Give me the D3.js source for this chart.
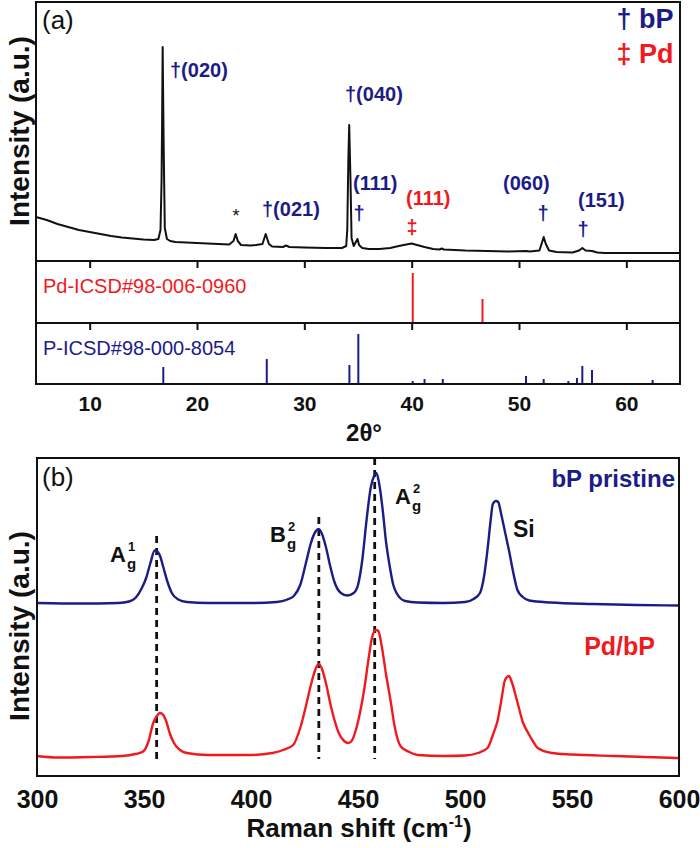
<!DOCTYPE html>
<html>
<head>
<meta charset="utf-8">
<script src="https://cdn.jsdelivr.net/npm/d3@7"></script>
<style>
  body { margin: 0; background: #fff; }
  svg { font-family: "Liberation Sans", Arial, sans-serif; }
</style>
</head>
<body>
<svg id="chart"></svg>
<script>
// ---- data ----
// XRD scan of Pd/bP: [2theta, intensity a.u.]
const xrdScan = [
  [5,44],[6,41],[7,37],[8,34],[9,31],[10,29],[11,27],[12,25],[13,23.5],[14,22.5],[15,21.5],
  [16,21],[16.4,22],[16.6,31],[16.7,81],[16.75,141],[16.8,214],[16.85,161],[16.9,111],[17.0,33],
  [17.2,22],[17.5,20],[18,19],[19,18.5],[20,18],[21,17.5],[22,17],[23,16.5],[23.4,20],[23.6,27],
  [23.8,20],[24.1,16],[25,15.5],[25.5,16],[26.1,17],[26.4,27],[26.7,17],[27,14.5],[28,14],
  [28.3,15.5],[28.6,14],[30,13.5],[32,13],[33.5,13],[33.9,15],[34.0,31],[34.1,101],[34.18,136],
  [34.3,81],[34.4,23],[34.6,15],[34.8,19],[34.95,22],[35.1,16],[35.4,13],[36,12],[37,12],[38,13],
  [38.8,15],[39.5,16.5],[40.0,17.5],[40.5,16],[41.2,14],[42,12],[42.6,11.5],[42.8,12.5],[43,11.5],
  [45,10.5],[47,10],[49,9.5],[50.7,10],[51,9.5],[51.9,10.5],[52.1,17],[52.3,24],[52.5,17],
  [52.8,10.5],[53.5,9],[55,8.5],[55.6,10.5],[55.9,13],[56.2,10.5],[56.8,10],[57.3,8.5],[58,8],
  [60,8],[63,8],[65,8]
];
// reference patterns: [2theta, relative intensity]
const pdRefs = [[40.1,50],[46.6,24]];
const pRefs = [
  [16.86,17],[26.5,25],[34.2,19],[35.03,50],[40.1,3],[41.2,5],[42.9,5],[44.9,1],[50.65,8],
  [52.3,5],[54.6,3],[55.4,6],[55.9,18],[56.8,14],[58.35,1],[62.45,4]
];
const xrdTicks = [10,20,30,40,50,60];

// Raman spectra: [shift cm-1, intensity a.u.]
const ramanBP = [
  [300,173],[320,172.5],[338,173],[343,174.5],[346,178],[349,188],[351,198],[353,213],[355,225.5],
  [356,225],[357.5,220],[359,209],[361,194],[363,183],[366,176.5],[370,174],[380,173],[400,173],
  [412,174],[417,176.5],[420,180],[423,191],[426,216],[428,233],[430,244],[431.5,247],[433,243],
  [435,229],[437,210],[439,194],[442,183],[445,180.5],[448,183],[450,191],[452,216],[454,256],
  [456,289],[457.5,300],[458.6,303],[460,291],[461.7,263],[463,236],[464.8,210],[466.5,191],
  [468,183],[472,175],[478,173.5],[490,173],[500,174],[504,177],[507,183],[509,201],[510.5,226],
  [512,256],[513,272],[514.5,275],[515.5,274],[517,261],[519,241],[520.5,226],[522.5,204],
  [524.5,186],[527,179],[530,175.5],[540,173.5],[560,172],[580,171],[600,170.5]
];
const ramanPdBP = [
  [300,20],[310,18.5],[325,19],[340,20],[346,22],[349.6,24.5],[352,34],[354.3,53],[356,60],
  [357.5,63],[359,61],[360.5,54],[362,43],[364,33],[366.8,26],[370,23],[380,21],[400,21],[410,23],
  [415,26],[419.7,31],[423,48],[426,73],[428,91],[430,106],[431.6,112],[433,108],[435,93],[437,73],
  [439,56],[441,43],[443.5,35],[445.5,33],[447,35],[449,46],[451,64],[453,88],[455,118],
  [456.5,138],[458.4,146],[459.5,145],[461,131],[463,103],[465.4,73],[467,51],[470,29.5],[474,24],
  [478,21],[490,20],[500,20.5],[506,23],[510.5,28],[513,41],[515.3,56],[517,76],[518.7,96],
  [520.6,100],[522,93],[524.6,73],[527,54],[529.5,43],[532,34],[534,28],[540.6,23],[550,21.5],
  [570,20],[600,18]
];
// bP mode positions and the intensity range of their dashed guides
const modePos = [355.9, 431.7, 457.8];
const modeTop = [240, 259, 318];
const modeBottom = 17;
const ramanTicks = [300,350,400,450,500,550,600];

// ---- drawing ----
const W = 700, H = 848;
const navy = "#1c1c86", red = "#f01a1e";
const svg = d3.select("#chart").attr("width", W).attr("height", H);

// panel (a)
const L = 36, R = 680;
const x = d3.scaleLinear().domain([5, 65]).range([L, R]);
const yMain = d3.scaleLinear().domain([0, 259]).range([261, 2]);
const yPd = d3.scaleLinear().domain([0, 62]).range([323, 261]);
const yP = d3.scaleLinear().domain([0, 61]).range([384, 323]);

svg.append("path")
  .datum(xrdScan)
  .attr("fill", "none")
  .attr("stroke", "#111")
  .attr("stroke-width", 2)
  .attr("stroke-linejoin", "round")
  .attr("d", d3.line().x(d => x(d[0])).y(d => yMain(d[1])));

svg.selectAll(".pdstick").data(pdRefs).join("line")
  .attr("x1", d => x(d[0])).attr("x2", d => x(d[0]))
  .attr("y1", yPd(0)).attr("y2", d => yPd(d[1]))
  .attr("stroke", red).attr("stroke-width", 2);

svg.selectAll(".pstick").data(pRefs).join("line")
  .attr("x1", d => x(d[0])).attr("x2", d => x(d[0]))
  .attr("y1", yP(0)).attr("y2", d => yP(d[1]))
  .attr("stroke", navy).attr("stroke-width", 2);

// inner ticks on top of each reference strip
[261, 323].forEach(yy => {
  svg.append("g")
    .attr("transform", `translate(0,${yy})`)
    .call(d3.axisBottom(x).tickValues(xrdTicks).tickSize(7).tickFormat(""))
    .call(g => g.select(".domain").remove())
    .selectAll("line").attr("stroke", "#111").attr("stroke-width", 2);
});

svg.append("g")
  .attr("transform", "translate(0,384)")
  .call(d3.axisBottom(x).tickValues(xrdTicks).tickSize(0).tickPadding(12).tickFormat(d3.format("d")))
  .call(g => g.select(".domain").remove())
  .selectAll("text")
  .attr("font-family", "Liberation Sans, Arial, sans-serif")
  .attr("font-size", 21).attr("font-weight", "bold").attr("fill", "#111");

// frames
[[2, 261], [261, 323], [323, 384]].forEach(([t, b]) => {
  svg.append("rect").attr("x", L).attr("y", t).attr("width", R - L).attr("height", b - t)
    .attr("fill", "none").attr("stroke", "#111").attr("stroke-width", 2);
});

svg.append("text").attr("x", 364).attr("y", 441).attr("text-anchor", "middle")
  .attr("font-size", 24).attr("font-weight", "bold").attr("fill", "#111").text("2θ°");

svg.append("text").attr("x", 42).attr("y", 29).attr("font-size", 26).attr("fill", "#111").text("(a)");

svg.append("text").attr("x", 43).attr("y", 293).attr("font-size", 20).attr("fill", red).text("Pd-ICSD#98-006-0960");
svg.append("text").attr("x", 43).attr("y", 355).attr("font-size", 20).attr("fill", navy).text("P-ICSD#98-000-8054");

// legend
const legend = [["†", "bP", navy, 28], ["‡", "Pd", red, 63]];
legend.forEach(([sym, lab, col, yy]) => {
  svg.append("text").attr("x", 624).attr("y", yy).attr("text-anchor", "middle")
    .attr("font-size", 27).attr("font-weight", "bold").attr("fill", col).text(sym);
  svg.append("text").attr("x", 639).attr("y", yy)
    .attr("font-size", 27).attr("font-weight", "bold").attr("fill", col).text(lab);
});

// peak labels
const peakText = [
  ["†(020)", 170, 77, navy, "start"],
  ["†(021)", 262, 216, navy, "start"],
  ["†(040)", 345, 101, navy, "start"],
  ["(111)", 353, 190, navy, "start"],
  ["†", 359, 220, navy, "middle"],
  ["(111)", 406, 205, red, "start"],
  ["‡", 412, 234, red, "middle"],
  ["(060)", 503, 190, navy, "start"],
  ["†", 543, 220, navy, "middle"],
  ["(151)", 578, 207, navy, "start"],
  ["†", 583, 236, navy, "middle"]
];
peakText.forEach(([t, px, py, col, anc]) => {
  svg.append("text").attr("x", px).attr("y", py).attr("text-anchor", anc)
    .attr("font-size", 20).attr("font-weight", "bold").attr("fill", col).text(t);
});
svg.append("text").attr("x", 236).attr("y", 222).attr("text-anchor", "middle")
  .attr("font-size", 18).attr("fill", "#111").text("*");

// y titles
function yTitle(cy) {
  svg.append("text")
    .attr("transform", `translate(29,${cy}) rotate(-90)`)
    .attr("text-anchor", "middle")
    .attr("font-size", 28).attr("font-weight", "bold").attr("fill", "#111")
    .text("Intensity (a.u.)");
}
yTitle(131);
yTitle(626);

// panel (b)
const xr = d3.scaleLinear().domain([300, 600]).range([37, 679]);
const yr = d3.scaleLinear().domain([0, 318]).range([776, 458]);
const ramanLine = d3.line().curve(d3.curveMonotoneX).x(d => xr(d[0])).y(d => yr(d[1]));

svg.selectAll(".mode").data(modePos).join("line")
  .attr("x1", d => xr(d)).attr("x2", d => xr(d))
  .attr("y1", (d, i) => yr(modeTop[i])).attr("y2", yr(modeBottom))
  .attr("stroke", "#111").attr("stroke-width", 2.8).attr("stroke-dasharray", "7,5");

svg.append("path").datum(ramanBP)
  .attr("fill", "none").attr("stroke", navy).attr("stroke-width", 2.4).attr("d", ramanLine);
svg.append("path").datum(ramanPdBP)
  .attr("fill", "none").attr("stroke", red).attr("stroke-width", 2.4).attr("d", ramanLine);

svg.append("rect").attr("x", 37).attr("y", 458).attr("width", 642).attr("height", 318)
  .attr("fill", "none").attr("stroke", "#111").attr("stroke-width", 2);

svg.append("g")
  .attr("transform", "translate(0,776)")
  .call(d3.axisBottom(xr).tickValues(ramanTicks).tickSize(0).tickPadding(14).tickFormat(d3.format("d")))
  .call(g => g.select(".domain").remove())
  .selectAll("text")
  .attr("font-family", "Liberation Sans, Arial, sans-serif")
  .attr("font-size", 25).attr("font-weight", "bold").attr("fill", "#111");

const xt = svg.append("text").attr("x", 359).attr("y", 837).attr("text-anchor", "middle")
  .attr("font-size", 26).attr("font-weight", "bold").attr("fill", "#111");
xt.append("tspan").text("Raman shift (cm");
xt.append("tspan").attr("dy", -10).attr("font-size", 16).text("-1");
xt.append("tspan").attr("dy", 10).text(")");

svg.append("text").attr("x", 42).attr("y", 486).attr("font-size", 26).attr("fill", "#111").text("(b)");

svg.append("text").attr("x", 675).attr("y", 487).attr("text-anchor", "end")
  .attr("font-size", 24).attr("font-weight", "bold").attr("fill", navy).text("bP pristine");
svg.append("text").attr("x", 655).attr("y", 655).attr("text-anchor", "end")
  .attr("font-size", 25).attr("font-weight", "bold").attr("fill", red).text("Pd/bP");

// mode labels: [main, sup, x, baseline]
const modeLabels = [["A", "1", 110, 562], ["B", "2", 270, 542], ["A", "2", 395, 504]];
modeLabels.forEach(([m, s, lx, ly]) => {
  svg.append("text").attr("x", lx).attr("y", ly)
    .attr("font-size", 22).attr("font-weight", "bold").attr("fill", "#111").text(m);
  svg.append("text").attr("x", lx + 18).attr("y", ly - 11)
    .attr("font-size", 13).attr("font-weight", "bold").attr("fill", "#111").text(s);
  svg.append("text").attr("x", lx + 17).attr("y", ly + 7)
    .attr("font-size", 15).attr("font-weight", "bold").attr("fill", "#111").text("g");
});
svg.append("text").attr("x", 513).attr("y", 537)
  .attr("font-size", 23).attr("font-weight", "bold").attr("fill", "#111").text("Si");
</script>
</body>
</html>
